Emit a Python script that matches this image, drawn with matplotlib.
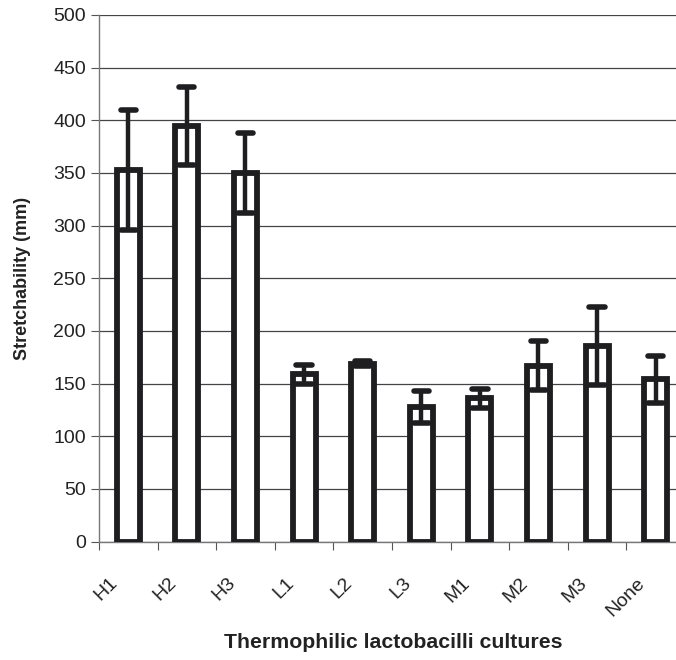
import matplotlib
matplotlib.use("Agg")
import matplotlib.pyplot as plt
import matplotlib.transforms as mtransforms
import numpy as np

plt.rcParams['font.family'] = ['Liberation Sans', 'DejaVu Sans']

cultures = ['H1', 'H2', 'H3', 'L1', 'L2', 'L3', 'M1', 'M2', 'M3', 'None']
stretch = [353, 395, 350, 159, 169, 128, 136, 167, 186, 154]
err = [57, 37, 38, 9, 2, 15, 9, 23, 37, 22]

dark = '#1e1e20'
fig = plt.figure(figsize=(6.76, 6.6), dpi=100)
ax = fig.add_axes([0.1464, 0.1795, 0.8669, 0.7978])

x = np.arange(len(cultures))
vals = np.array(stretch)
e = np.array(err)
ax.bar(x, vals, width=0.39, color='white', edgecolor=dark, linewidth=4.2, zorder=3)
# error bars: whisker + caps drawn on top of the bars
ax.vlines(x, vals - e, vals + e, color=dark, linewidth=3.2, zorder=6)
ax.hlines(vals + e, x - 0.13, x + 0.13, color=dark, linewidth=4.0, zorder=6, capstyle='round')
ax.hlines(vals - e, x - 0.13, x + 0.13, color=dark, linewidth=4.0, zorder=6, capstyle='round')

ax.set_xlim(-0.5, 9.5)
ax.set_ylim(0, 500)
ax.set_yticks(np.arange(0, 501, 50))
ax.yaxis.grid(True, color='#444444', linewidth=0.9, zorder=0)

# ticks on category boundaries, labels under the bars
ax.set_xticks(np.arange(-0.5, 9.5, 1.0))
ax.set_xticklabels([])
ax.set_xticks(x, cultures, minor=True)
ax.tick_params(axis='x', which='minor', length=0, pad=0, labelsize=14, labelcolor='#222222')
shift = mtransforms.ScaledTranslation(-19 / 100, -33 / 100, fig.dpi_scale_trans)
for lab in ax.get_xticklabels(minor=True):
    lab.set_rotation(45)
    lab.set_ha('right')
    lab.set_va('top')
    lab.set_rotation_mode('anchor')
    lab.set_transform(lab.get_transform() + shift)

ax.tick_params(axis='both', which='major', direction='out', length=6,
               color='#555555', labelsize=14, labelcolor='#222222')

for s in ['top', 'right']:
    ax.spines[s].set_visible(False)
for s in ['left', 'bottom']:
    ax.spines[s].set_color('#777777')
    ax.spines[s].set_linewidth(1.0)

ax.set_ylabel('Stretchability (mm)', fontsize=13, fontweight='bold', color='#222222', labelpad=16)
fig.text(0.581, 0.012, 'Thermophilic lactobacilli cultures', fontsize=15.3,
         fontweight='bold', color='#222222', ha='center', va='bottom')

plt.savefig('out.png', dpi=100)
